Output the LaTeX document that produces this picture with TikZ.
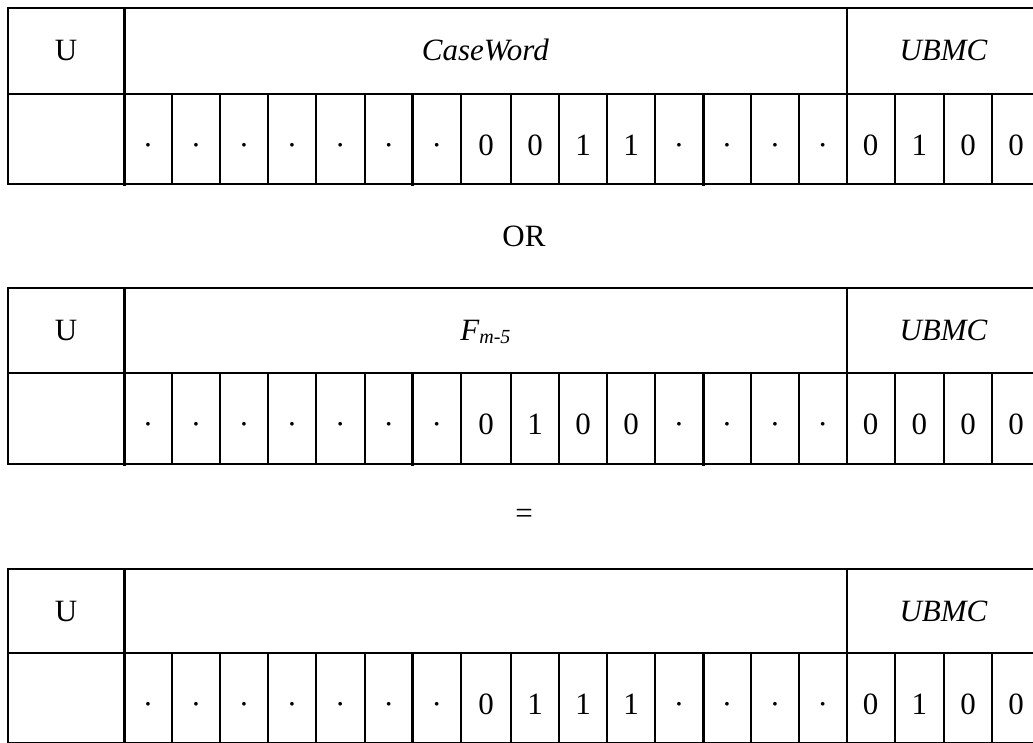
\documentclass[tikz,border=0pt]{standalone}
\usepackage{fontspec}
\setmainfont{Liberation Serif}
\tikzset{
  gridline/.style={line width=1.8pt, line cap=rect},
  heavyline/.style={line width=3pt, line cap=rect},
  celltext/.style={inner sep=0pt, anchor=base, font=\fontsize{31}{31}\selectfont},
  sidetext/.style={inner sep=0pt, anchor=center, font=\fontsize{31}{31}\selectfont}
}
\def\bnd{{124,172,220,268,316,364.7,412.7,461,511,559.3,607,655,703.3,751,799,846.7,894.7,944,992,1040}}
% #1 prefix, #2 top, #3 mid, #4 bottom, #5 middle label, #6 bits
\newcommand\bittable[6]{%
  \draw[gridline] (8,#2) -- (1040,#2) (8,#3) -- (1040,#3) (8,#4) -- (1040,#4);
  \draw[gridline] (8,#2) -- (8,#4) (846.7,#2) -- (846.7,#4);
  \foreach \t [count=\i from 0] in {#6} {
    \pgfmathsetmacro\xa{\bnd[\i]}
    \pgfmathsetmacro\xb{\bnd[\i+1]}
    \draw[gridline] (\xb,#3) -- (\xb,#4);
    \node[celltext] (#1c\i) at ({(\xa+\xb)/2},#3+61) {\t};
  }
  \draw[heavyline] (124,#2) -- (124,#4);
  \draw[heavyline] (412.7,#3) -- (412.7,#4) (703.3,#3) -- (703.3,#4);
  \node[celltext] (#1u) at (66,#2+52) {U};
  \node[celltext] (#1mid) at (485.4,#2+52) {#5};
  \node[celltext] (#1ubmc) at (943.4,#2+52) {\itshape UBMC};
}
\begin{document}
\begin{tikzpicture}[x=1pt,y=-1pt]
\useasboundingbox (0,0) rectangle (1033,742);
\clip (0,0) rectangle (1033,742);
\bittable{a}{8}{94}{184}{\itshape CaseWord}{·,·,·,·,·,·,·,0,0,1,1,·,·,·,·,0,1,0,0}
\node[sidetext] (or) at (524,236) {OR};
\bittable{b}{288}{373}{464}{{\itshape F\raisebox{-3pt}{\fontsize{20}{20}\selectfont m-5}}}{·,·,·,·,·,·,·,0,1,0,0,·,·,·,·,0,0,0,0}
\node[sidetext] (eq) at (524,516.5) {=};
\bittable{c}{569}{653}{743}{}{·,·,·,·,·,·,·,0,1,1,1,·,·,·,·,0,1,0,0}
\end{tikzpicture}
\end{document}
